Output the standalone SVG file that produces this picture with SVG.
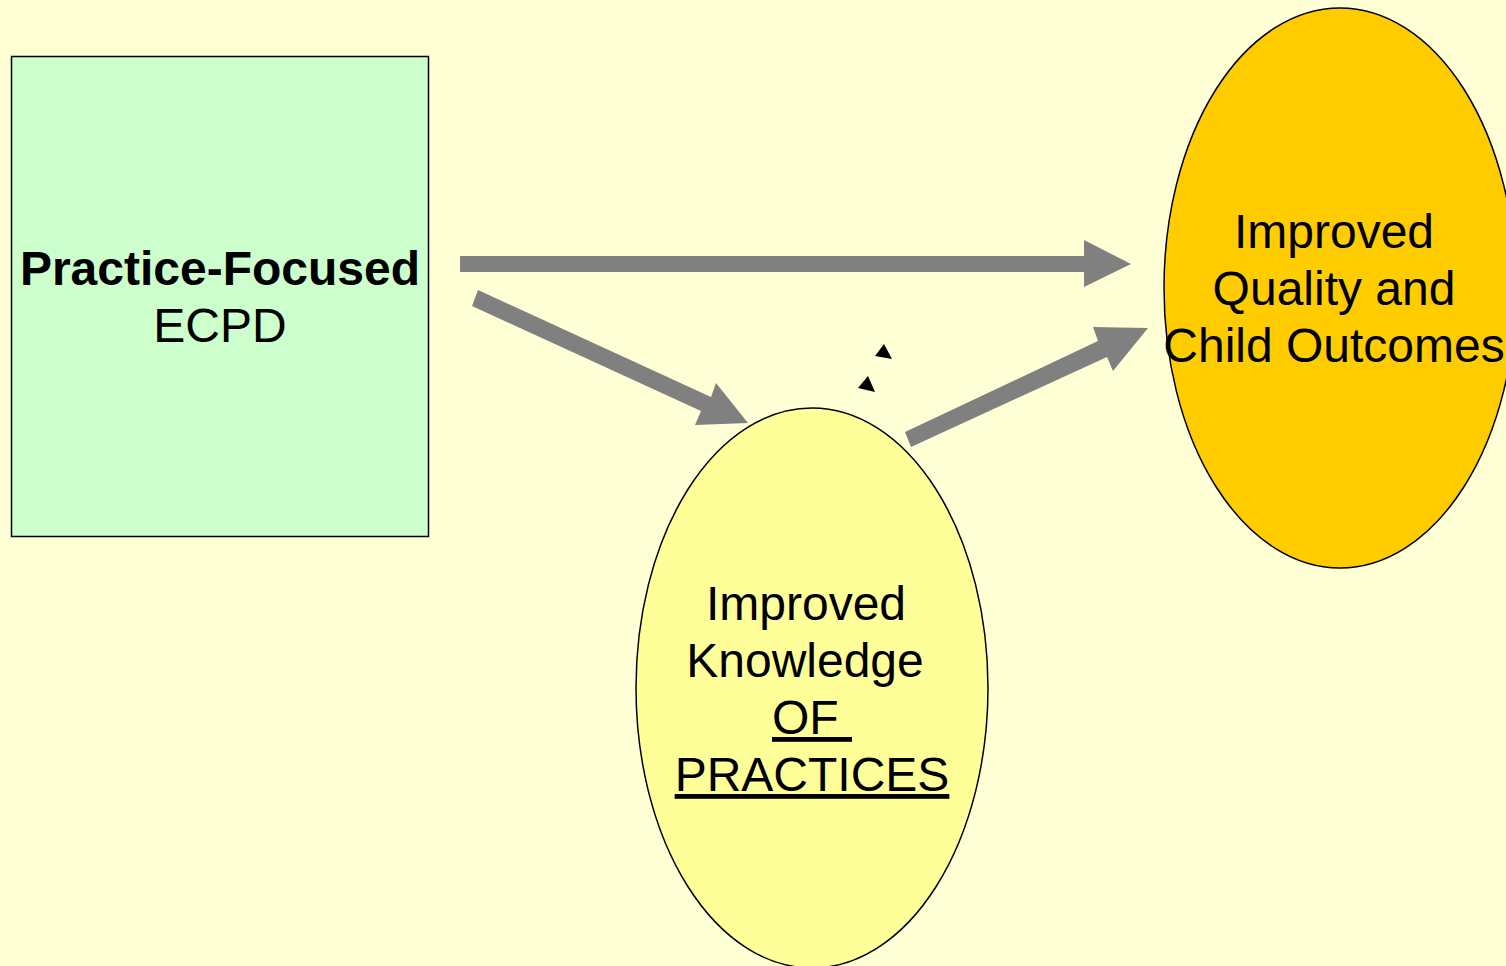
<svg xmlns="http://www.w3.org/2000/svg" width="1506" height="966" viewBox="0 0 1506 966">
  <style>
    .lbl { font-family: "Liberation Sans", Arial, sans-serif; font-size: 48px; fill: #000; text-anchor: middle; }
    .bold { font-weight: bold; }
    .ul { text-decoration: underline; }
    .shape { stroke: #000; stroke-width: 1.5; }
    .arrow { fill: #808080; stroke: none; }
    .tick { fill: #000; stroke: none; }
  </style>
  <rect width="1506" height="966" fill="#FFFFD5"/>

  <!-- connectors -->
  <g id="connectors">
    <!-- ECPD to outcomes -->
    <polygon class="arrow" points="460,256 1084,256 1084,240 1131,264 1084,287 1084,272 460,272"/>
    <!-- ECPD to knowledge -->
    <polygon class="arrow" points="478,290 711,397 716,383 748,423 695,425 701,411 472,306"/>
    <!-- knowledge to outcomes -->
    <polygon class="arrow" points="905,432 1098,341 1093,327 1148,328 1113,371 1107,357 911,447"/>
    <!-- small marks -->
    <polygon class="tick" points="884,344 875,356 892,359"/>
    <polygon class="tick" points="868,376 858,388 875,392"/>
  </g>

  <g id="node-ecpd">
    <rect class="shape" x="11.5" y="56.5" width="417" height="480" fill="#CCFFCC"/>
    <text class="lbl bold" x="220" y="285">Practice-Focused</text>
    <text class="lbl" x="220" y="342">ECPD</text>
  </g>

  <g id="node-outcomes">
    <ellipse class="shape" cx="1340" cy="288" rx="176" ry="280" fill="#FFCC00"/>
    <text class="lbl" x="1334" y="248">Improved</text>
    <text class="lbl" x="1334" y="305">Quality and</text>
    <text class="lbl" x="1334" y="362">Child Outcomes</text>
  </g>

  <g id="node-knowledge">
    <ellipse class="shape" cx="812" cy="688" rx="176" ry="280" fill="#FFFF99"/>
    <text class="lbl" x="806" y="620">Improved</text>
    <text class="lbl" x="805" y="677">Knowledge</text>
    <text class="lbl ul" x="812" y="734" xml:space="preserve">OF </text>
    <text class="lbl ul" x="812" y="791">PRACTICES</text>
  </g>
</svg>
